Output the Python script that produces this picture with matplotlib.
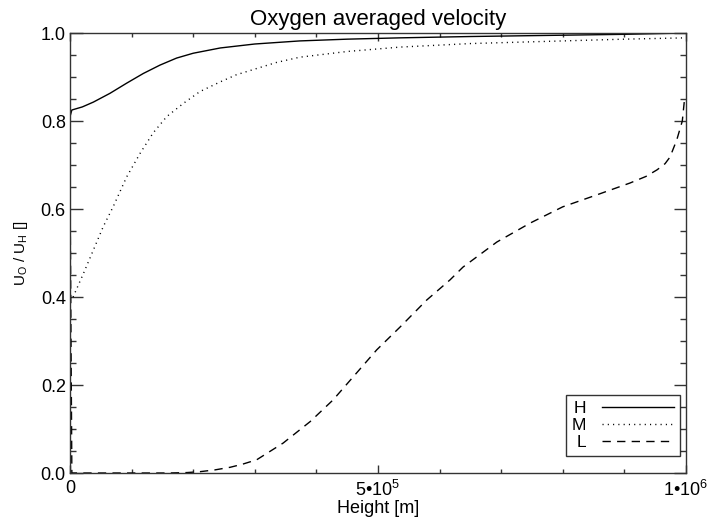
import matplotlib
matplotlib.use("Agg")
import matplotlib.pyplot as plt
from matplotlib.ticker import MultipleLocator, FixedLocator, FixedFormatter

plt.rcParams['font.family'] = ['Liberation Sans', 'DejaVu Sans']
plt.rcParams['mathtext.fontset'] = 'custom'
plt.rcParams['mathtext.rm'] = 'Liberation Sans'

title = "Oxygen averaged velocity"
xlabel = "Height [m]"
ylabel = r"U$_\mathrm{O}$ / U$_\mathrm{H}$ []"

h_x = [0, 3e3, 2.0e4, 3.8e4, 6.5e4, 9.2e4, 1.19e5, 1.46e5, 1.73e5, 2.0e5, 2.44e5, 3.0e5, 3.73e5, 4.5e5, 5.36e5, 6.5e5, 8.0e5, 9.0e5, 1.0e6]
h_y = [0.81, 0.825, 0.832, 0.843, 0.863, 0.886, 0.908, 0.927, 0.943, 0.954, 0.966, 0.975, 0.982, 0.986, 0.989, 0.992, 0.995, 0.997, 1.0]

m_x = [0, 5e3, 2.2e4, 3.8e4, 5.4e4, 7.0e4, 9.2e4, 1.14e5, 1.35e5, 1.57e5, 1.84e5, 2.11e5, 2.44e5, 2.7e5, 3.0e5, 3.35e5, 3.73e5, 4.5e5, 5.36e5, 6.5e5, 8.0e5, 9.0e5, 1.0e6]
m_y = [0.39, 0.40, 0.454, 0.507, 0.56, 0.605, 0.673, 0.727, 0.773, 0.81, 0.84, 0.867, 0.889, 0.905, 0.918, 0.933, 0.945, 0.958, 0.968, 0.976, 0.982, 0.986, 0.989]

l_x = [0, 3e3, 1.0e5, 1.6e5, 1.9e5, 2.11e5, 2.35e5, 2.6e5, 2.8e5, 3.03e5, 3.46e5, 3.90e5, 4.27e5, 4.65e5, 4.98e5, 5.36e5, 5.79e5, 6.17e5, 6.38e5, 6.93e5, 7.47e5, 8.0e5, 8.55e5, 9.09e5, 9.35e5, 9.53e5, 9.66e5, 9.74e5, 9.85e5, 9.94e5, 9.98e5]
l_y = [0.67, 0.0, 0.0, 0.0, 0.001, 0.003, 0.007, 0.013, 0.02, 0.03, 0.068, 0.117, 0.166, 0.227, 0.28, 0.332, 0.393, 0.439, 0.468, 0.525, 0.568, 0.605, 0.632, 0.659, 0.674, 0.689, 0.703, 0.718, 0.757, 0.80, 0.855]

xticks = [0, 5e5, 1e6]
xticklabels = ["0", r"5•10$^{5}$", r"1•10$^{6}$"]
yticks = [0.0, 0.2, 0.4, 0.6, 0.8, 1.0]
yticklabels = ["0.0", "0.2", "0.4", "0.6", "0.8", "1.0"]

fig = plt.figure(figsize=(7.13, 5.24), dpi=100)
ax = fig.add_axes([70/713, 51/524, 616/713, 440/524])

fs = 13
ax.plot(h_x, h_y, color='black', lw=1.0, linestyle='-', label='H')
ax.plot(m_x, m_y, color='black', lw=1.0, linestyle=(0, (0.8, 3.0)), label='M')
ax.plot(l_x, l_y, color='black', lw=1.0, linestyle=(0, (6, 4.5)), label='L')

ax.set_xlim(0, 1e6)
ax.set_ylim(0, 1.0)
ax.xaxis.set_major_locator(FixedLocator(xticks))
ax.xaxis.set_major_formatter(FixedFormatter(xticklabels))
ax.xaxis.set_minor_locator(MultipleLocator(1e5))
ax.yaxis.set_major_locator(FixedLocator(yticks))
ax.yaxis.set_major_formatter(FixedFormatter(yticklabels))
ax.yaxis.set_minor_locator(MultipleLocator(0.05))

axcol = '#333333'
for s in ax.spines.values():
    s.set_color(axcol)
    s.set_linewidth(1.0)
ax.tick_params(axis='x', which='major', direction='in', length=6, width=1, top=True, colors=axcol, labelcolor='black', labelsize=fs, pad=5)
ax.tick_params(axis='x', which='minor', direction='in', length=3, width=1, top=True, colors=axcol)
ax.tick_params(axis='y', which='major', direction='in', length=9, width=1, right=True, colors=axcol, labelcolor='black', labelsize=fs, pad=3)
ax.tick_params(axis='y', which='minor', direction='in', length=4.5, width=1, right=True, colors=axcol)

ax.set_title(title, fontsize=16, pad=6)
ax.set_xlabel(xlabel, fontsize=fs, labelpad=0)
ax.set_ylabel(ylabel, fontsize=11, labelpad=8)

leg = ax.legend(loc='lower right', markerfirst=False, frameon=True, fancybox=False, fontsize=12.5,
                handlelength=4.2, labelspacing=0.12, borderpad=0.32, handletextpad=0.9,
                borderaxespad=0)
leg.set_bbox_to_anchor(((680-70)/616, 17/440), transform=ax.transAxes)
fr = leg.get_frame()
fr.set_edgecolor('black')
fr.set_linewidth(1.0)

fig.savefig('out.png', dpi=100)
